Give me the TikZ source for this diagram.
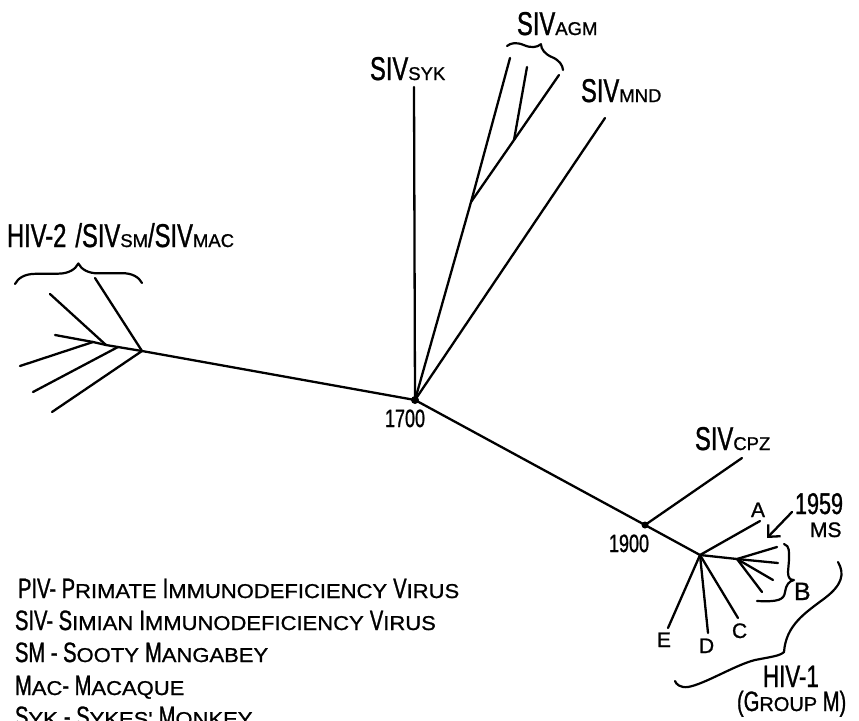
\documentclass[tikz,border=0pt]{standalone}
\usepackage{fontspec}
\setmainfont{Liberation Sans}[FakeBold=1]
\newfontfamily\hwn{Liberation Sans}[FakeStretch=0.72,FakeBold=1]
\newfontfamily\wdf{Liberation Sans}[FakeStretch=1.1,FakeBold=1]
\usetikzlibrary{decorations.pathreplacing,arrows.meta}
\newcommand\LA{\hwn\fontsize{33}{35}\selectfont}
\newcommand\LB{\normalfont\fontsize{18.5}{20}\selectfont}
\newcommand\GA{\hwn\fontsize{28}{30}\selectfont}
\newcommand\GB{\wdf\fontsize{20}{22}\selectfont}
\newcommand\DG{\hwn\fontsize{25}{27}\selectfont}
\newcommand\LT{\normalfont\fontsize{21}{23}\selectfont}
\begin{document}
\begin{tikzpicture}[x=1pt,y=-1pt, line width=2.3pt, line cap=round, line join=round,
  br/.style={line width=2.2pt},
  lbl/.style={anchor=base west, inner sep=0pt, outer sep=0pt},
  dotn/.style={circle, fill, inner sep=0pt, minimum size=8pt}]
\useasboundingbox (0,0) rectangle (859,720);
\clip (0,0) rectangle (859,720);

% ---------- branch points ----------
\node[dotn] (R) at (415,400) {};
\node[dotn, minimum size=7pt] (N19) at (645,525) {};
\coordinate (L) at (142,351);
\coordinate (Lb1) at (118,347);
\coordinate (Lb2) at (106,345);
\coordinate (Lb3) at (93,342);
\coordinate (Lend) at (55,335);
\coordinate (Ll1) at (95,278);
\coordinate (Ll2) at (50,294);
\coordinate (Ll3) at (20,366);
\coordinate (Ll4) at (33,392);
\coordinate (Ll5) at (52,412);
\coordinate (SYK) at (414,87);
\coordinate (MND) at (605,118);
\coordinate (G) at (471,202);
\coordinate (G1) at (510,58);
\coordinate (G2) at (514,140);
\coordinate (G3) at (559,75);
\coordinate (G4) at (527,67);
\coordinate (CPZ) at (742,458);
\coordinate (H) at (700,555);
\coordinate (Aleaf) at (760,521);
\coordinate (Bn) at (737,559);
\coordinate (B1) at (777,547);
\coordinate (B2) at (778,563);
\coordinate (B3) at (773,580);
\coordinate (B4) at (762,592);
\coordinate (Cleaf) at (738,618);
\coordinate (Dleaf) at (708,633);
\coordinate (Eleaf) at (668,628);
\coordinate (ArS) at (792,512);
\coordinate (ArE) at (767,538);

% ---------- tree ----------
\draw (R.center) -- (L);
\draw (L) -- (Lb1) -- (Lb2) -- (Lb3) -- (Lend);
\draw (L) -- (Ll1);
\draw (Lb2) -- (Ll2);
\draw (Lb3) -- (Ll3);
\draw (Lb1) -- (Ll4);
\draw (L) -- (Ll5);
\draw (R.center) -- (SYK);
\draw (R.center) -- (MND);
\draw (R.center) -- (G) -- (G1);
\draw (G) -- (G2) -- (G3);
\draw (G2) -- (G4);
\draw (R.center) -- (N19.center);
\draw (N19.center) -- (CPZ);
\draw (N19.center) -- (H);
\draw (H) -- (Aleaf);
\draw (H) -- (Bn) -- (B2);
\draw (Bn) -- (B1);
\draw (Bn) -- (B3);
\draw (Bn) -- (B4);
\draw (H) -- (Cleaf);
\draw (H) -- (Dleaf);
\draw (H) -- (Eleaf);
\draw[-{Straight Barb[length=9pt,width=17pt]}] (ArS) -- (ArE);

% ---------- braces ----------
\draw[br, decorate, decoration={brace, amplitude=20pt}] (15,284) -- (142,283);
\draw[br, decorate, decoration={brace, amplitude=15pt}] (507,46) -- (563,70);
\draw[br] (784,544) .. controls (790,546) and (789,552) .. (789,560) -- (788,572)
  .. controls (788,578) and (790,580) .. (794,580)
  .. controls (789,581) and (786,585) .. (785,592)
  .. controls (784,600) and (778,602) .. (757,601);
\draw[br] (838,562) .. controls (845,574) and (842,585) .. (825,598)
  .. controls (805,613) and (786,625) .. (784,652)
  .. controls (780,656) and (770,657) .. (755,660)
  .. controls (735,665) and (705,684) .. (688,687)
  .. controls (680,688) and (676,684) .. (675,681);

% ---------- labels ----------
\node[lbl] (tSYK) at (370,80) {\LA SIV\LB SYK};
\node[lbl] (tAGM) at (517,35) {\LA SIV\LB AGM};
\node[lbl] (tMND) at (581,102) {\LA SIV\LB MND};
\node[lbl] (tCPZ) at (695,450) {\LA SIV\LB CPZ};
\node[lbl] (tHIV2) at (7,247) {\LA HIV-2\hspace{9pt}/SIV\LB SM\LA /SIV\LB MAC};
\node[lbl] (t1700) at (385,427) {\DG 1700};
\node[lbl] (t1900) at (609,552) {\DG 1900};
\node[lbl] (t1959) at (795,514) {\hwn\fontsize{30}{32}\selectfont 1959};
\node[lbl] (tMS) at (810,537) {\LT MS};
\node[lbl] (tA) at (751,517) {\LT A};
\node[lbl] (tB) at (794,600) {\normalfont\fontsize{25}{27}\selectfont B};
\node[lbl] (tC) at (732,638) {\LT C};
\node[lbl] (tD) at (699,653) {\LT D};
\node[lbl] (tE) at (657,647) {\LT E};
\node[lbl] (tHIV1) at (763,687) {\hwn\fontsize{31}{33}\selectfont HIV-1};
\node[lbl] (tGRP) at (737,711) {\hwn\fontsize{28}{30}\selectfont (G\normalfont\fontsize{20}{22}\selectfont ROUP \hwn\fontsize{28}{30}\selectfont M)};

% ---------- legend ----------
\node[lbl] (g1) at (18,598) {\GA PIV- P\GB RIMATE \GA I\GB MMUNODEFICIENCY \GA V\GB IRUS};
\node[lbl] (g2) at (15,630) {\GA SIV- S\GB IMIAN \GA I\GB MMUNODEFICIENCY \GA V\GB IRUS};
\node[lbl] (g3) at (15,662) {\GA SM - S\GB OOTY \GA M\GB ANGABEY};
\node[lbl] (g4) at (15,695) {\GA M\GB AC\GA - M\GB ACAQUE};
\node[lbl] (g5) at (15,726) {\GA S\GB YK \GA - S\GB YKES' \GA M\GB ONKEY};
\end{tikzpicture}
\end{document}
